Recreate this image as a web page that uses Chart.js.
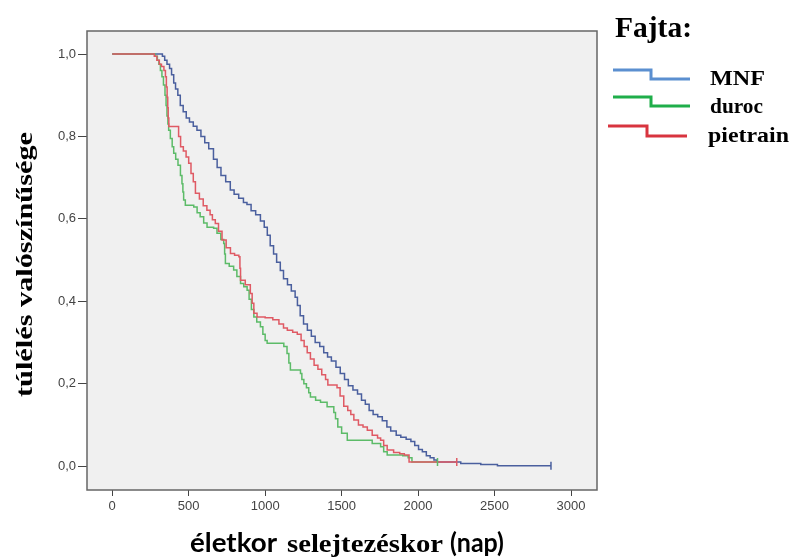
<!DOCTYPE html>
<html>
<head>
<meta charset="utf-8">
<script src="https://cdn.jsdelivr.net/npm/chart.js@4.4.1/dist/chart.umd.min.js"></script>
<style>
  html, body { margin: 0; padding: 0; background: #fff; }
  #wrap { width: 790px; height: 558px; }
</style>
</head>
<body>
<div id="wrap"><canvas id="km" width="790" height="558"></canvas></div>
<script>
// Kaplan-Meier curves (days, survival)
const mnfDays = [0, 328, 343, 358, 375, 388, 402, 414, 429, 445, 464, 484, 505, 530, 554, 580, 605, 631, 662, 686,
    711, 742, 772, 797, 827, 858, 881, 908, 938, 969, 994, 1014, 1033, 1055, 1075, 1099, 1120, 1146, 1171, 1196,
    1211, 1229, 1251, 1276, 1302, 1327, 1357, 1383, 1408, 1433, 1463, 1491, 1519, 1544, 1574, 1604, 1630, 1655, 1680, 1706,
    1736, 1766, 1796, 1821, 1857, 1887, 1922, 1953, 1978, 2003, 2028, 2054, 2079, 2104, 2124, 2279, 2410, 2519, 2869];
const mnfSurv = [1.0, 0.995, 0.985, 0.975, 0.965, 0.95, 0.93, 0.915, 0.90, 0.875, 0.86, 0.845, 0.835, 0.825, 0.815, 0.80, 0.785, 0.77, 0.745, 0.725,
    0.705, 0.69, 0.67, 0.66, 0.65, 0.64, 0.635, 0.62, 0.61, 0.595, 0.58, 0.56, 0.535, 0.515, 0.495, 0.475, 0.455, 0.44, 0.425, 0.41,
    0.39, 0.365, 0.345, 0.33, 0.315, 0.30, 0.29, 0.275, 0.265, 0.255, 0.24, 0.225, 0.21, 0.195, 0.185, 0.175, 0.16, 0.15, 0.135, 0.125,
    0.12, 0.11, 0.095, 0.085, 0.075, 0.07, 0.065, 0.06, 0.05, 0.04, 0.035, 0.025, 0.02, 0.015, 0.01, 0.0065, 0.004, 0.001, 0.001];

const durocDays = [0, 280, 295, 305, 315, 325, 335, 345, 352, 358, 364, 369, 380, 392, 402, 415, 430, 446, 456, 462,
    467, 478, 533, 555, 575, 598, 620, 663, 685, 710, 729, 735, 740, 765, 794, 815, 839, 860, 882, 895,
    910, 926, 945, 969, 985, 1000, 1013, 1122, 1143, 1155, 1165, 1231, 1240, 1253, 1270, 1285, 1296, 1330, 1362, 1405,
    1449, 1460, 1475, 1500, 1537, 1668, 1700, 1755, 1775, 1798, 1900, 1935, 1960, 2127];
const durocSurv = [1.0, 0.995, 0.985, 0.975, 0.96, 0.945, 0.925, 0.90, 0.875, 0.85, 0.83, 0.815, 0.795, 0.775, 0.759, 0.745, 0.73, 0.705, 0.685, 0.665,
    0.646, 0.633, 0.629, 0.615, 0.605, 0.59, 0.58, 0.577, 0.565, 0.55, 0.54, 0.515, 0.492, 0.485, 0.476, 0.46, 0.443, 0.435, 0.427, 0.405,
    0.38, 0.362, 0.35, 0.338, 0.32, 0.305, 0.298, 0.29, 0.273, 0.25, 0.233, 0.225, 0.21, 0.20, 0.19, 0.178, 0.168, 0.16, 0.155, 0.144,
    0.13, 0.115, 0.095, 0.08, 0.063, 0.063, 0.055, 0.047, 0.035, 0.027, 0.025, 0.02, 0.01, 0.01];

const pietrainDays = [0, 275, 292, 308, 322, 338, 348, 354, 359, 363, 366, 370, 434, 447, 465, 483, 500, 515, 530, 544,
    570, 595, 619, 640, 655, 674, 695, 718, 745, 773, 800, 828, 835, 839, 870, 903, 915, 926, 947, 1000,
    1050, 1090, 1120, 1145, 1180, 1210, 1235, 1255, 1275, 1296, 1320, 1345, 1370, 1395, 1410, 1470, 1490, 1514, 1540, 1560,
    1580, 1610, 1640, 1668, 1700, 1735, 1755, 1775, 1798, 1840, 1880, 1910, 1941, 2253];
const pietrainSurv = [1.0, 0.995, 0.985, 0.975, 0.97, 0.96, 0.945, 0.92, 0.895, 0.87, 0.845, 0.824, 0.80, 0.775, 0.765, 0.75, 0.735, 0.71, 0.69, 0.662,
    0.648, 0.632, 0.621, 0.61, 0.598, 0.589, 0.57, 0.549, 0.53, 0.516, 0.512, 0.508, 0.48, 0.451, 0.44, 0.419, 0.395, 0.371, 0.362, 0.36,
    0.355, 0.345, 0.335, 0.33, 0.325, 0.32, 0.305, 0.29, 0.275, 0.26, 0.245, 0.235, 0.222, 0.21, 0.197, 0.19, 0.17, 0.145, 0.135, 0.125,
    0.112, 0.10, 0.095, 0.087, 0.075, 0.068, 0.063, 0.05, 0.039, 0.033, 0.03, 0.027, 0.01, 0.01];

// censored observations (tick marks)
const mnfCensorDays = [2869];
const mnfCensorSurv = [0.001];
const durocCensorDays = [2127];
const durocCensorSurv = [0.01];
const pietrainCensorDays = [2253];
const pietrainCensorSurv = [0.01];

const seriesNames = ['MNF', 'duroc', 'pietrain'];
const xTicks = [0, 500, 1000, 1500, 2000, 2500, 3000];
const yTicks = [0.0, 0.2, 0.4, 0.6, 0.8, 1.0];

const lineColors = ['#4a5f9e', '#5cbb68', '#df5a64'];
const legendColors = ['#5b8fd0', '#1fae4a', '#d8343f'];

const SERIF = '"Liberation Serif", "Times New Roman", serif';
const SANS = '"Liberation Sans", Arial, sans-serif';
const TITLE_SANS = 'Lato, "Open Sans", sans-serif';

function toPoints(xs, ys) {
    return xs.map((x, i) => ({ x: x, y: ys[i] }));
}

function curve(label, xs, ys, color, order) {
    return {
        label: label,
        data: toPoints(xs, ys),
        showLine: true,
        stepped: true,
        borderColor: color,
        borderWidth: 1.5,
        pointRadius: 0,
        order: order
    };
}

function censor(label, xs, ys, color, order) {
    return {
        label: label,
        data: toPoints(xs, ys),
        showLine: false,
        pointStyle: 'line',
        rotation: 90,
        pointRadius: 4,
        borderColor: color,
        borderWidth: 1.5,
        order: order
    };
}

// Draw text squeezed/stretched to a given width
function fitText(ctx, text, x, y, width, font, angle) {
    ctx.save();
    ctx.font = font;
    const natural = ctx.measureText(text).width;
    ctx.translate(x, y);
    if (angle) ctx.rotate(angle);
    ctx.scale(width / natural, 1);
    ctx.textAlign = 'left';
    ctx.textBaseline = 'alphabetic';
    ctx.fillText(text, 0, 0);
    ctx.restore();
}

const framePlugin = {
    id: 'frame',
    beforeDraw(chart) {
        const { ctx, chartArea: a } = chart;
        ctx.save();
        ctx.fillStyle = '#f0f0f0';
        ctx.fillRect(a.left, a.top, a.right - a.left, a.bottom - a.top);
        ctx.restore();
    },
    afterDraw(chart) {
        const { ctx, chartArea: a } = chart;
        ctx.save();
        ctx.strokeStyle = '#666';
        ctx.lineWidth = 1.5;
        ctx.strokeRect(a.left, a.top, a.right - a.left, a.bottom - a.top);

        // axis titles (x title mixes a sans and a serif face, as in the original)
        ctx.fillStyle = '#000';
        fitText(ctx, 'életkor', 190, 552, 87, 'bold 26px ' + TITLE_SANS);
        fitText(ctx, 'selejtezéskor', 287, 552, 156, 'bold 26px ' + SERIF);
        fitText(ctx, '(nap)', 450, 552, 54, 'bold 26px ' + TITLE_SANS);
        fitText(ctx, 'túlélés valószínűsége', 32, 397, 265, 'bold 23px ' + SERIF, -Math.PI / 2);

        // legend
        fitText(ctx, 'Fajta:', 615, 37, 77, 'bold 29px ' + SERIF);
        const rows = [
            { y1: 70, y2: 79, x0: 613, xs: 651, x1: 690, tx: 710, ty: 85, w: 55 },
            { y1: 97, y2: 106, x0: 613, xs: 651, x1: 690, tx: 710, ty: 113, w: 53 },
            { y1: 126, y2: 136, x0: 608, xs: 647, x1: 687, tx: 708, ty: 142, w: 81 }
        ];
        rows.forEach((r, i) => {
            ctx.strokeStyle = legendColors[i];
            ctx.lineWidth = 3;
            ctx.beginPath();
            ctx.moveTo(r.x0, r.y1);
            ctx.lineTo(r.xs, r.y1);
            ctx.lineTo(r.xs, r.y2);
            ctx.lineTo(r.x1, r.y2);
            ctx.stroke();
            ctx.fillStyle = '#000';
            fitText(ctx, seriesNames[i], r.tx, r.ty, r.w, 'bold 20px ' + SERIF);
        });
        ctx.restore();
    }
};

new Chart(document.getElementById('km'), {
    type: 'scatter',
    data: {
        datasets: [
            curve(seriesNames[2], pietrainDays, pietrainSurv, lineColors[2], 1),
            curve(seriesNames[1], durocDays, durocSurv, lineColors[1], 2),
            curve(seriesNames[0], mnfDays, mnfSurv, lineColors[0], 3),
            censor(seriesNames[2] + ' censor', pietrainCensorDays, pietrainCensorSurv, lineColors[2], 0),
            censor(seriesNames[1] + ' censor', durocCensorDays, durocCensorSurv, lineColors[1], 0),
            censor(seriesNames[0] + ' censor', mnfCensorDays, mnfCensorSurv, lineColors[0], 0)
        ]
    },
    options: {
        responsive: false,
        animation: false,
        devicePixelRatio: 1,
        layout: { padding: { top: 31, right: 193, left: 0, bottom: 0 } },
        plugins: {
            legend: { display: false },
            tooltip: { enabled: false }
        },
        scales: {
            x: {
                type: 'linear',
                min: -165,
                max: 3170,
                afterBuildTicks: (scale) => { scale.ticks = xTicks.map(v => ({ value: v })); },
                afterFit: (scale) => { scale.height = 68; },
                border: { display: false },
                grid: { drawOnChartArea: false, drawTicks: true, tickLength: 6, color: '#444', lineWidth: 1 },
                ticks: {
                    autoSkip: false,
                    maxRotation: 0,
                    padding: 3,
                    color: '#444',
                    font: { family: SANS, size: 13 },
                    callback: (v) => String(v)
                }
            },
            y: {
                type: 'linear',
                min: -0.058,
                max: 1.056,
                afterBuildTicks: (scale) => { scale.ticks = yTicks.map(v => ({ value: v })); },
                afterFit: (scale) => { scale.width = 87; },
                border: { display: false },
                grid: { drawOnChartArea: false, drawTicks: true, tickLength: 9, color: '#444', lineWidth: 1 },
                ticks: {
                    padding: 2,
                    color: '#444',
                    font: { family: SANS, size: 13 },
                    callback: (v) => v.toFixed(1).replace('.', ',')
                }
            }
        }
    },
    plugins: [framePlugin]
});
</script>
</body>
</html>
